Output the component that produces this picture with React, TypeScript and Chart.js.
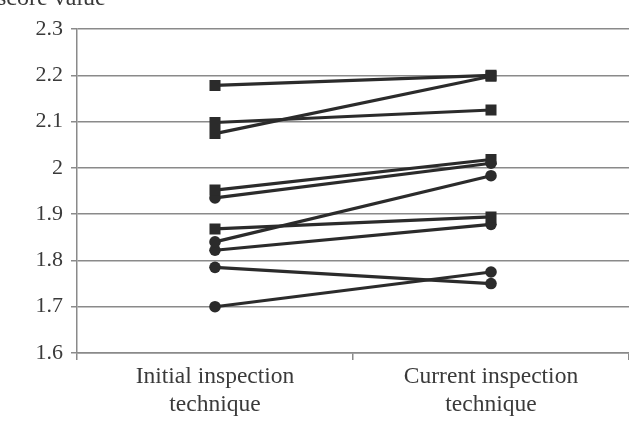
import React, { useEffect, useRef } from "react";
import { Chart, registerables } from "chart.js";

Chart.register(...registerables);

const categories = [["Initial inspection", "technique"], ["Current inspection", "technique"]];
const squareInitial = [2.178, 2.098, 2.074, 1.952, 1.868];
const squareCurrent = [2.2, 2.125, 2.198, 2.018, 1.894];
const circleInitial = [1.935, 1.84, 1.822, 1.785, 1.7];
const circleCurrent = [2.01, 1.983, 1.878, 1.75, 1.775];
const yTicks = [1.6, 1.7, 1.8, 1.9, 2, 2.1, 2.2, 2.3];
const yTitle = "score value";

const LINE = "#2b2b2b";
const GRID = "#8a8a8a";
const TEXT = "#3a3a3a";
const FONT = "'Liberation Serif', 'Times New Roman', serif";

export default function App() {
  const ref = useRef<HTMLCanvasElement | null>(null);
  useEffect(() => {
    document.body.style.margin = "0";
    const ds: any[] = [];
    squareInitial.forEach((v, i) => {
      ds.push({
        data: [v, squareCurrent[i]],
        borderColor: LINE,
        backgroundColor: LINE,
        borderWidth: 3.2,
        pointStyle: "rect",
        pointRadius: 7.8,
        pointBorderWidth: 0,
      });
    });
    circleInitial.forEach((v, i) => {
      ds.push({
        data: [v, circleCurrent[i]],
        borderColor: LINE,
        backgroundColor: LINE,
        borderWidth: 3.2,
        pointStyle: "circle",
        pointRadius: 5.8,
        pointBorderWidth: 0,
      });
    });
    const titlePlugin = {
      id: "ytitle",
      afterDraw(chart: any) {
        const ctx = chart.ctx;
        ctx.save();
        ctx.font = `24px ${FONT}`;
        ctx.fillStyle = TEXT;
        ctx.textBaseline = "alphabetic";
        ctx.textAlign = "left";
        ctx.fillText(yTitle, -3, 5);
        ctx.restore();
      },
    };
    const chart = new Chart(ref.current!, {
      type: "line",
      data: { labels: categories as any, datasets: ds },
      plugins: [titlePlugin],
      options: {
        animation: false,
        responsive: false,
        layout: { autoPadding: false, padding: { top: 29, right: 0, left: 0, bottom: 0 } },
        plugins: { legend: { display: false }, tooltip: { enabled: false } },
        scales: {
          x: {
            type: "category",
            offset: true,
            grid: {
              offset: true,
              drawOnChartArea: false,
              drawTicks: true,
              tickLength: 7,
              color: GRID,
              lineWidth: 1.5,
            },
            border: { color: GRID, width: 1.5 },
            ticks: {
              color: TEXT,
              font: { family: FONT, size: 23.5, lineHeight: "28px" },
              padding: 3,
              maxRotation: 0,
              autoSkip: false,
            },
            afterFit(s: any) {
              s.height = 70;
              s.paddingLeft = 0;
              s.paddingRight = 0;
            },
          },
          y: {
            min: 1.6,
            max: 2.3,
            afterBuildTicks(s: any) {
              s.ticks = yTicks.map((v) => ({ value: v }));
            },
            grid: {
              color: GRID,
              lineWidth: 1.5,
              tickLength: 6,
              drawTicks: true,
            },
            border: { color: GRID, width: 1.5 },
            ticks: {
              color: TEXT,
              font: { family: FONT, size: 22 },
              padding: 8,
              callback: (v: any) => String(Math.round(v * 10) / 10),
            },
            afterFit(s: any) {
              s.width = 77;
            },
          },
        },
      },
    });
    return () => chart.destroy();
  }, []);
  return <canvas ref={ref} width={629} height={423} style={{ display: "block" }} />;
}
